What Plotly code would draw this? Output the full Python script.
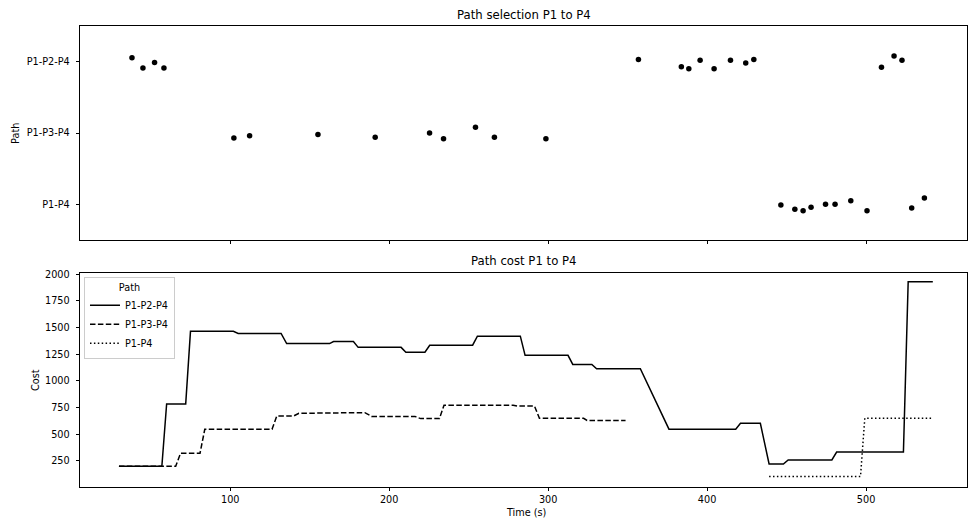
import plotly.graph_objects as go

# ---------------- data ----------------
paths = ["P1-P2-P4", "P1-P3-P4", "P1-P4"]

# strip plot (path selection) : times of selection and strip jitter (category units)
sel_t_p2 = [38.2, 45.1, 52.4, 58.3, 356.8, 383.8, 388.5, 395.6, 404.4, 414.7, 424.3, 429.4, 509.7, 517.6, 522.6]
sel_j_p2 = [-0.056, 0.09, 0.01, 0.09, -0.03, 0.07, 0.10, -0.02, 0.10, -0.02, 0.02, -0.03, 0.08, -0.08, -0.02]
sel_t_p3 = [102.3, 112.2, 155.2, 191.2, 225.4, 234.2, 254.3, 266.2, 298.6]
sel_j_p3 = [0.07, 0.04, 0.02, 0.06, 0.0, 0.08, -0.08, 0.06, 0.08]
sel_t_p4 = [446.4, 455.2, 460.4, 465.4, 474.5, 480.5, 490.4, 500.6, 528.7, 536.7]
sel_j_p4 = [0.01, 0.07, 0.09, 0.04, 0.0, 0.0, -0.05, 0.09, 0.05, -0.09]

# path costs over time
cost_t_p2 = [30, 57, 60, 72, 75, 102, 105, 132, 135.5, 162.5, 165, 177.5, 180.5, 207.5, 210.5,
             222.5, 225.5, 252.5, 255.5, 282.5, 285.5, 312.5, 315.5, 327.5, 330.5, 358, 376,
             418, 421, 433.5, 439, 448, 451, 478.5, 481.5, 523.5, 526.5, 542]
cost_v_p2 = [200, 200, 785, 785, 1465, 1465, 1445, 1445, 1350, 1350, 1370, 1370, 1315, 1315, 1270,
             1270, 1335, 1335, 1420, 1420, 1240, 1240, 1155, 1155, 1115, 1115, 548,
             548, 603, 603, 222, 222, 260, 260, 333, 333, 1930, 1930]
cost_t_p3 = [30, 65.7, 68.8, 81, 84, 126.3, 129.3, 140, 143.2, 165, 168, 184.7, 188.9, 216.2,
             219.8, 231.6, 234.5, 278, 280.5, 291.4, 294.5, 322.3, 324.5, 348.7]
cost_v_p3 = [200, 200, 323, 323, 547, 547, 672, 672, 697, 697, 703, 703, 668, 668,
             647, 647, 773, 773, 765, 765, 650, 650, 630, 630]
cost_t_p4 = [439, 496.5, 499.2, 541]
cost_v_p4 = [105, 105, 650, 650]

x_ticks = [100, 200, 300, 400, 500]
cost_ticks = [250, 500, 750, 1000, 1250, 1500, 1750, 2000]

# ---------------- figure ----------------
FONT = "DejaVu Sans"
fig = go.Figure()

for i, (tt, jj) in enumerate([(sel_t_p2, sel_j_p2), (sel_t_p3, sel_j_p3), (sel_t_p4, sel_j_p4)]):
    fig.add_trace(go.Scatter(
        x=tt, y=[i + j for j in jj], mode="markers",
        marker=dict(color="black", size=5.5, line=dict(width=0)),
        showlegend=False, xaxis="x", yaxis="y"))

for name, tt, vv, dash in [("P1-P2-P4", cost_t_p2, cost_v_p2, "solid"),
                           ("P1-P3-P4", cost_t_p3, cost_v_p3, "5.5px,2.4px"),
                           ("P1-P4", cost_t_p4, cost_v_p4, "1.5px,2.4px")]:
    fig.add_trace(go.Scatter(
        x=tt, y=vv, mode="lines", name=name,
        line=dict(color="black", width=1.5, dash=dash),
        xaxis="x2", yaxis="y2"))

axis_common = dict(showline=True, mirror=True, linecolor="black", linewidth=0.8,
                   ticks="outside", ticklen=3.5, tickwidth=0.8, tickcolor="black",
                   showgrid=False, zeroline=False, automargin=False,
                   tickfont=dict(family=FONT, size=9.7, color="black"))

x_range = [5.5, 563.5]
fig.update_layout(
    width=968, height=522,
    margin=dict(l=80, r=1, t=26, b=35, autoexpand=False),
    paper_bgcolor="white", plot_bgcolor="white",
    font=dict(family=FONT, size=9.7, color="black"),
    xaxis=dict(domain=[0, 1], anchor="y", range=x_range, tickvals=x_ticks,
               showticklabels=False, **axis_common),
    yaxis=dict(domain=[0.5358, 1], anchor="x", range=[2.5, -0.5],
               tickvals=[0, 1, 2], ticktext=paths, ticklabelstandoff=4, **axis_common),
    xaxis2=dict(domain=[0, 1], anchor="y2", range=x_range, tickvals=x_ticks,
                matches="x", **axis_common),
    yaxis2=dict(domain=[0, 0.4649], anchor="x2", range=[6, 2015],
                tickvals=cost_ticks, ticklabelstandoff=4, **axis_common),
    legend=dict(x=0.0045, y=0.455, xanchor="left", yanchor="top",
                bgcolor="rgba(255,255,255,0.8)", bordercolor="#cccccc", borderwidth=1,
                font=dict(family=FONT, size=9.7, color="black"),
                title=dict(text="Path", side="top center",
                           font=dict(family=FONT, size=9.7, color="black")),
                itemwidth=30, tracegroupgap=0),
    annotations=[
        dict(text="Path selection P1 to P4", xref="paper", yref="paper", x=0.5, y=1.0239,
             xanchor="center", yanchor="middle", showarrow=False,
             font=dict(family=FONT, size=11.7, color="black")),
        dict(text="Path cost P1 to P4", xref="paper", yref="paper", x=0.5, y=0.4902,
             xanchor="center", yanchor="middle", showarrow=False,
             font=dict(family=FONT, size=11.7, color="black")),
        dict(text="Path", xref="paper", yref="paper", x=-0.0722, y=0.7679, textangle=-90,
             xanchor="center", yanchor="middle", showarrow=False,
             font=dict(family=FONT, size=9.7, color="black")),
        dict(text="Cost", xref="paper", yref="paper", x=-0.0496, y=0.2323, textangle=-90,
             xanchor="center", yanchor="middle", showarrow=False,
             font=dict(family=FONT, size=9.7, color="black")),
        dict(text="Time (s)", xref="paper", yref="paper", x=0.503, y=-0.0553,
             xanchor="center", yanchor="middle", showarrow=False,
             font=dict(family=FONT, size=9.7, color="black")),
    ],
)

fig.write_html(
    "out.html",
    config={"displayModeBar": False},
    post_script="document.body.style.margin='0';document.body.style.padding='0';"
                "document.body.style.overflow='hidden';",
)
